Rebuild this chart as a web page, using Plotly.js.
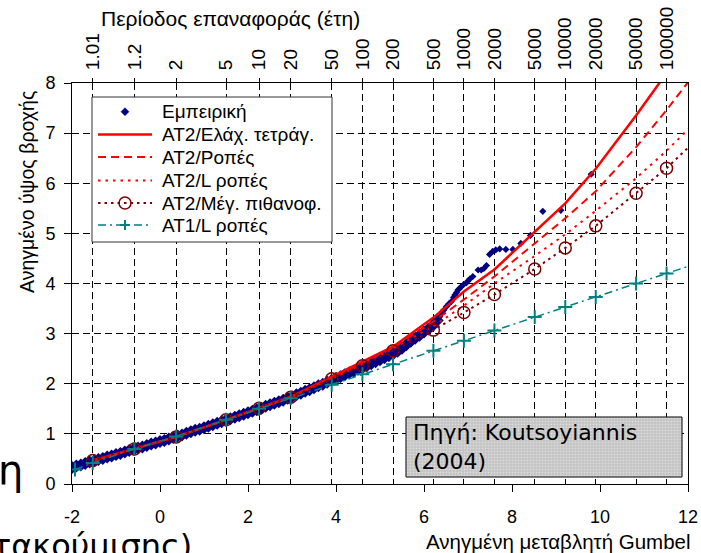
<!DOCTYPE html>
<html><head><meta charset="utf-8">
<script src="https://cdn.plot.ly/plotly-3.0.1.min.js"></script>
<style>html,body{margin:0;padding:0;background:#fff;}#chart{width:701px;height:553px;}</style>
</head><body><div id="chart"></div>
<script>
// Top axis: return periods (years)
const returnPeriods = [1.01, 1.2, 2, 5, 10, 20, 50, 100, 200, 500, 1000, 2000, 5000, 10000, 20000, 50000, 100000];
const returnPeriodLabels = ['1.01','1.2','2','5','10','20','50','100','200','500','1000','2000','5000','10000','20000','50000','100000'];
// Bottom axis: Gumbel reduced variate
const bottomTicks = [-2, 0, 2, 4, 6, 8, 10, 12];
const bottomTickLabels = ['-2', '0', '2', '4', '6', '8', '10', '12'];

// Return periods at which the fitted curves are evaluated
const modelT = [1.01, 1.2, 2, 5, 10, 20, 50, 100, 200, 500, 1000, 2000, 5000, 10000, 20000, 50000, 100000, 200000];
const at1T = [1.001, 1.01, 1.2, 2, 5, 10, 20, 50, 100, 200, 500, 1000, 2000, 5000, 10000, 20000, 50000, 100000, 200000];

// Fitted curves (standardized rainfall depth)
const at2LeastSquares = [0.47, 0.70, 0.94, 1.28, 1.51, 1.74, 2.14, 2.44, 2.74, 3.32, 3.84, 4.28, 5.02, 5.60, 6.29, 7.35, 8.20, 9.10];
const at2Moments      = [0.47, 0.70, 0.94, 1.28, 1.51, 1.73, 2.12, 2.42, 2.72, 3.24, 3.68, 4.14, 4.80, 5.30, 5.84, 6.72, 7.46, 8.25];
const at2LMoments     = [0.47, 0.70, 0.94, 1.28, 1.51, 1.73, 2.10, 2.39, 2.70, 3.15, 3.56, 4.00, 4.55, 4.98, 5.45, 6.10, 6.65, 7.25];
const at2MaxLik       = [0.47, 0.70, 0.94, 1.28, 1.51, 1.73, 2.10, 2.36, 2.66, 3.07, 3.42, 3.78, 4.29, 4.71, 5.15, 5.80, 6.30, 6.88];
const at1LMoments     = [0.29, 0.42, 0.70, 0.95, 1.28, 1.50, 1.71, 1.98, 2.19, 2.39, 2.66, 2.86, 3.06, 3.33, 3.53, 3.73, 4.00, 4.20, 4.40];

// Empirical points: dense part (Gumbel reduced variate, depth)
const empDenseX = [-2.0,-1.9,-1.8,-1.7,-1.6,-1.5,-1.4,-1.3,-1.2,-1.1,-1.0,-0.9,-0.8,-0.7,-0.6,-0.5,-0.4,-0.3,-0.2,-0.1,
  0.0,0.1,0.2,0.3,0.4,0.5,0.6,0.7,0.8,0.9,1.0,1.1,1.2,1.3,1.4,1.5,1.6,1.7,1.8,1.9,
  2.0,2.1,2.2,2.3,2.4,2.5,2.6,2.7,2.8,2.9,3.0,3.1,3.2,3.3,3.4,3.5,3.6,3.7,3.8,3.9,
  4.0,4.1,4.2,4.3,4.4,4.5,4.6,4.7,4.8,4.9,5.0,5.1,5.2,5.3,5.4,5.5,5.6,5.7,5.8,5.9,
  6.0,6.1,6.2,6.3];
const empDenseY = [0.33,0.36,0.38,0.41,0.44,0.46,0.49,0.51,0.54,0.56,0.59,0.61,0.64,0.67,0.69,0.72,0.74,0.77,0.80,0.82,
  0.85,0.87,0.90,0.93,0.96,0.98,1.01,1.04,1.07,1.09,1.12,1.15,1.18,1.21,1.24,1.27,1.30,1.33,1.36,1.39,
  1.42,1.45,1.48,1.51,1.55,1.58,1.61,1.64,1.67,1.71,1.74,1.78,1.81,1.85,1.88,1.92,1.96,1.99,2.03,2.07,
  2.11,2.14,2.18,2.22,2.25,2.29,2.32,2.36,2.40,2.44,2.48,2.52,2.56,2.60,2.65,2.71,2.78,2.85,2.91,2.97,
  3.03,3.09,3.16,3.26];
// Empirical points: sparse upper tail
const empTailX = [6.36,6.40,6.45,6.51,6.56,6.62,6.67,6.70,6.74,6.77,6.81,6.85,6.90,6.96,7.00,7.04,7.11,7.23,7.30,7.36,7.42,7.49,7.56,7.63,7.72,7.86,8.02,8.20,8.42,8.70,9.11,9.80];
const empTailY = [3.34,3.42,3.47,3.54,3.59,3.64,3.72,3.77,3.82,3.87,3.90,3.94,3.98,4.01,4.05,4.09,4.14,4.27,4.27,4.30,4.36,4.58,4.64,4.67,4.69,4.68,4.68,4.80,4.96,5.44,5.46,6.18];

const seriesNames = ['Εμπειρική','AT2/Ελάχ. τετράγ.','AT2/Ροπές','AT2/L ροπές','AT2/Μέγ. πιθανοφ.','AT1/L ροπές'];

// Gumbel reduced variate of a return period (axis transform)
const gumbel = T => -Math.log(-Math.log(1 - 1 / T));
const modelX = modelT.map(gumbel);
const at1X = at1T.map(gumbel);

const FONT = 'Liberation Sans, Arial, sans-serif';
const NAVY = '#000080', RED = '#FF0000', DARKRED = '#800000', TEAL = '#008080';

const data = [
  {x: empTailX, y: empTailY, type: 'scatter', mode: 'markers', name: seriesNames[0],
   marker: {symbol: 'diamond', size: 5.5, color: NAVY}},
  {x: empDenseX, y: empDenseY, type: 'scatter', mode: 'markers', name: seriesNames[0],
   marker: {symbol: 'diamond', size: 10, color: NAVY}},
  {x: modelX, y: at2LeastSquares, type: 'scatter', mode: 'lines', name: seriesNames[1],
   line: {color: RED, width: 2.5}},
  {x: modelX, y: at2Moments, type: 'scatter', mode: 'lines', name: seriesNames[2],
   line: {color: RED, width: 2, dash: '8px,5px'}},
  {x: modelX, y: at2LMoments, type: 'scatter', mode: 'lines', name: seriesNames[3],
   line: {color: RED, width: 2, dash: '2.5px,5px'}},
  {x: modelX, y: at2MaxLik, type: 'scatter', mode: 'lines+markers', name: seriesNames[4],
   line: {color: DARKRED, width: 2, dash: '2.5px,4px'},
   marker: {symbol: 'circle-open', size: 12, color: DARKRED, line: {width: 1.5, color: DARKRED}}},
  {x: at1X, y: at1LMoments, type: 'scatter', mode: 'lines+markers', name: seriesNames[5], xaxis: 'x2', yaxis: 'y',
   line: {color: TEAL, width: 1.5, dash: '8px,4px,2px,4px'},
   marker: {symbol: 'cross-thin', size: 10, color: TEAL, line: {width: 2, color: TEAL}}}
];

// pixel -> paper helpers (plot area: x 72..688, y 83..484)
const px2x = p => (p - 72) / 616;
const py2y = p => (484 - p) / 401;

const shapes = [];
// Source note box with fine grid texture
const bx0 = 406, bx1 = 682, by0 = 417, by1 = 477;
shapes.push({type: 'rect', xref: 'paper', yref: 'paper', x0: px2x(bx0), x1: px2x(bx1), y0: py2y(by1), y1: py2y(by0),
  fillcolor: '#DCDCDC', line: {width: 0}, layer: 'above'});
for (let p = bx0 + 3; p < bx1; p += 3) {
  shapes.push({type: 'line', xref: 'paper', yref: 'paper', x0: px2x(p), x1: px2x(p), y0: py2y(by1), y1: py2y(by0),
    line: {color: '#BDBDBD', width: 1}, layer: 'above'});
}
for (let p = by0 + 3; p < by1; p += 3) {
  shapes.push({type: 'line', xref: 'paper', yref: 'paper', x0: px2x(bx0), x1: px2x(bx1), y0: py2y(p), y1: py2y(p),
    line: {color: '#BDBDBD', width: 1}, layer: 'above'});
}
shapes.push({type: 'rect', xref: 'paper', yref: 'paper', x0: px2x(bx0), x1: px2x(bx1), y0: py2y(by1), y1: py2y(by0),
  fillcolor: 'rgba(0,0,0,0)', line: {color: '#000', width: 1}, layer: 'above'});

// Legend (drawn by hand to match the compact original layout)
const lgX0 = 92, lgX1 = 332, lgY0 = 97, lgY1 = 242;
const rowY = [111.7, 134.5, 157, 180.5, 203, 225];
const sx0 = 98, sx1 = 152, sxc = 125, textX = 160;
shapes.push({type: 'rect', xref: 'paper', yref: 'paper', x0: px2x(lgX0), x1: px2x(lgX1), y0: py2y(lgY1), y1: py2y(lgY0),
  fillcolor: '#fff', line: {color: '#333', width: 1}, layer: 'above'});
const lineSample = (row, color, width, dash) => shapes.push({type: 'line', xref: 'paper', yref: 'paper',
  x0: px2x(sx0), x1: px2x(sx1), y0: py2y(rowY[row]), y1: py2y(rowY[row]),
  line: {color: color, width: width, dash: dash}, layer: 'above'});
// row 0: diamond
{
  const c = rowY[0], h = 4;
  shapes.push({type: 'path', xref: 'paper', yref: 'paper',
    path: `M ${px2x(sxc)},${py2y(c - h)} L ${px2x(sxc + h)},${py2y(c)} L ${px2x(sxc)},${py2y(c + h)} L ${px2x(sxc - h)},${py2y(c)} Z`,
    fillcolor: NAVY, line: {color: NAVY, width: 0.5}, layer: 'above'});
}
lineSample(1, RED, data[2].line.width, 'solid');
lineSample(2, RED, data[3].line.width, data[3].line.dash);
lineSample(3, RED, data[4].line.width, data[4].line.dash);
lineSample(4, DARKRED, data[5].line.width, data[5].line.dash);
shapes.push({type: 'circle', xref: 'paper', yref: 'paper', x0: px2x(sxc - 6), x1: px2x(sxc + 6), y0: py2y(rowY[4] + 6), y1: py2y(rowY[4] - 6),
  fillcolor: 'rgba(0,0,0,0)', line: {color: DARKRED, width: 1.5}, layer: 'above'});
lineSample(5, TEAL, data[6].line.width, data[6].line.dash);
shapes.push({type: 'line', xref: 'paper', yref: 'paper', x0: px2x(sxc - 5), x1: px2x(sxc + 5), y0: py2y(rowY[5]), y1: py2y(rowY[5]),
  line: {color: TEAL, width: 2}, layer: 'above'});
shapes.push({type: 'line', xref: 'paper', yref: 'paper', x0: px2x(sxc), x1: px2x(sxc), y0: py2y(rowY[5] - 5), y1: py2y(rowY[5] + 5),
  line: {color: TEAL, width: 2}, layer: 'above'});

const annotations = [
  {text: 'Περίοδος επαναφοράς (έτη)', xref: 'paper', yref: 'paper', x: px2x(230), y: py2y(19),
   xanchor: 'center', yanchor: 'middle', showarrow: false, font: {family: FONT, size: 21, color: '#000'}},
  {text: 'Ανηγμένο ύψος βροχής', xref: 'paper', yref: 'paper', x: px2x(27), y: py2y(192),
   xanchor: 'center', yanchor: 'middle', textangle: -90, showarrow: false, font: {family: FONT, size: 19.5, color: '#000'}},
  {text: 'Ανηγμένη μεταβλητή Gumbel', xref: 'paper', yref: 'paper', x: px2x(558), y: py2y(541),
   xanchor: 'center', yanchor: 'middle', showarrow: false, font: {family: FONT, size: 20.5, color: '#000'}},
  {text: 'Πηγή: Koutsoyiannis<br>(2004)', xref: 'paper', yref: 'paper', x: px2x(411), y: py2y(447),
   xanchor: 'left', yanchor: 'middle', align: 'left', showarrow: false,
   font: {family: 'DejaVu Sans, sans-serif', size: 22, color: '#000'}},
  {text: 'η', xref: 'paper', yref: 'paper', x: px2x(10), y: py2y(470),
   xanchor: 'center', yanchor: 'middle', showarrow: false, font: {family: 'DejaVu Sans, sans-serif', size: 40, color: '#000'}},
  {text: 'τακούμισης)', xref: 'paper', yref: 'paper', x: px2x(194), y: py2y(525),
   xanchor: 'right', yanchor: 'top', showarrow: false, font: {family: 'DejaVu Sans, sans-serif', size: 32, color: '#000'}}
];
seriesNames.forEach((name, i) => annotations.push({text: name, xref: 'paper', yref: 'paper', x: px2x(textX), y: py2y(rowY[i]),
  xanchor: 'left', yanchor: 'middle', showarrow: false, font: {family: FONT, size: 19, color: '#000'}}));

const layout = {
  width: 701, height: 553,
  margin: {l: 72, r: 13, t: 83, b: 69, pad: 0},
  paper_bgcolor: '#fff', plot_bgcolor: '#fff',
  font: {family: FONT, size: 18, color: '#000'},
  showlegend: false,
  xaxis: {range: [-2, 12], tickmode: 'array', tickvals: bottomTicks, ticktext: bottomTickLabels,
    ticks: 'outside', ticklen: 7, tickcolor: '#000',
    showgrid: false, zeroline: false, showline: true, linecolor: '#000', linewidth: 1,
    tickfont: {family: FONT, size: 18, color: '#000'}, ticklabelstandoff: 9},
  xaxis2: {overlaying: 'x', side: 'top', anchor: 'y', range: [-2, 12],
    tickmode: 'array', tickvals: returnPeriods.map(gumbel), ticktext: returnPeriodLabels,
    tickangle: -90, ticks: 'outside', ticklen: 4, tickcolor: '#000',
    showgrid: true, gridcolor: '#000', gridwidth: 1, griddash: '7px,4px',
    zeroline: false, showline: true, linecolor: '#000', linewidth: 1,
    tickfont: {family: FONT, size: 19, color: '#000'}, ticklabelstandoff: 4},
  yaxis: {range: [0, 8], tick0: 0, dtick: 1, ticks: 'outside', ticklen: 7, tickcolor: '#000',
    showgrid: true, gridcolor: '#000', gridwidth: 1, griddash: '7px,4px',
    zeroline: false, showline: true, mirror: true, linecolor: '#000', linewidth: 1,
    tickfont: {family: FONT, size: 18, color: '#000'}, ticklabelstandoff: 5},
  shapes: shapes,
  annotations: annotations
};

Plotly.newPlot('chart', data, layout, {displayModeBar: false, staticPlot: true});
</script>
</body></html>
